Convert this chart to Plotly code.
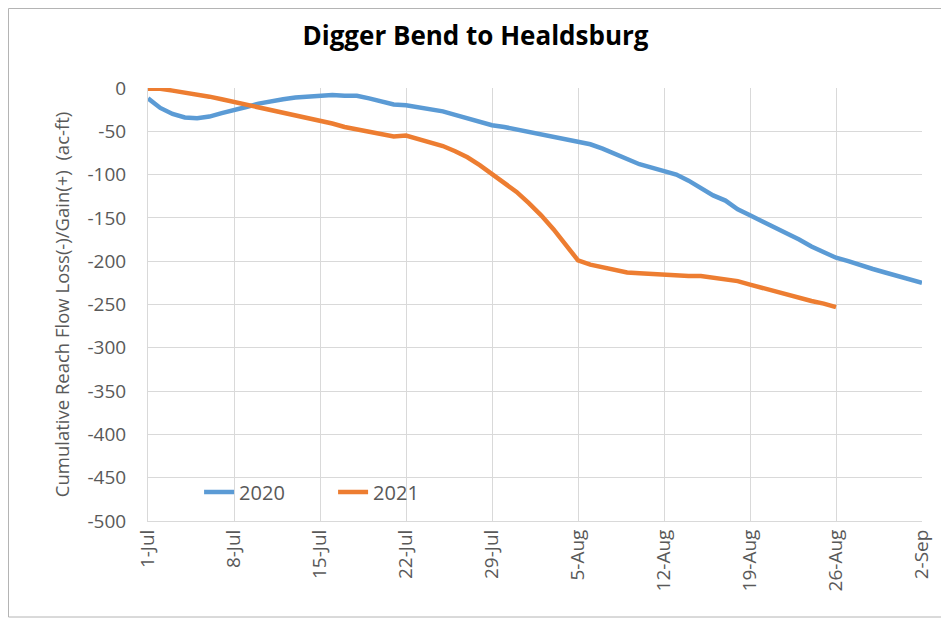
import pandas as pd
import plotly.graph_objects as go

# cumulative reach flow loss/gain (ac-ft), daily from 1-Jul
loss_2020 = [
    -12, -23, -30, -34, -35, -33, -29, -26, -22, -18,
    -15, -13, -11, -10, -9, -8, -9, -9, -12, -15,
    -19, -20, -22, -24, -27, -31, -35, -39, -43, -45,
    -48, -50, -53, -56, -60, -63, -65, -70, -76, -82,
    -88, -92, -96, -100, -107, -116, -124, -130, -140, -147,
    -154, -161, -167, -175, -183, -189, -196, -200, -205, -209,
    -213, -217, -222, -225,
]
loss_2021 = [
    -1, -1, -3, -5, -8, -10, -13, -16, -19, -22,
    -25, -28, -31, -35, -37, -41, -45, -48, -51, -54,
    -56, -55, -59, -62, -67, -73, -80, -89, -99, -109,
    -120, -133, -147, -163, -180, -199, -204, -207, -210, -213,
    -214, -215, -216, -217, -217, -217, -219, -221, -223, -227,
    -231, -235, -239, -242, -246, -249, -253,
]
start_date = "2020-07-01"
end_date = "2020-09-02"
y_ticks = [0, -50, -100, -150, -200, -250, -300, -350, -400, -450, -500]

dates_2020 = pd.date_range(start_date, periods=len(loss_2020), freq="D")
dates_2021 = pd.date_range(start_date, periods=len(loss_2021), freq="D")

GREY = "#595959"
GRID = "#d9d9d9"
FONT = "Open Sans, Noto Sans, sans-serif"

# the page body adds an 8px margin, so the figure is 8px smaller
W, H = 941, 613

fig = go.Figure()
fig.add_trace(go.Scatter(x=dates_2020, y=loss_2020, name="2020", mode="lines",
                         line=dict(color="#5B9BD5", width=4.5)))
fig.add_trace(go.Scatter(x=dates_2021, y=loss_2021, name="2021", mode="lines",
                         line=dict(color="#ED7D31", width=4.5)))

fig.update_layout(
    width=W,
    height=H,
    paper_bgcolor="white",
    plot_bgcolor="white",
    margin=dict(l=140, r=27, t=80, b=100),
    font=dict(family=FONT, color=GREY),
    title=dict(text="<b>Digger Bend to Healdsburg</b>", x=467.5 / W, xref="container",
               xanchor="center", y=1 - 28 / H, yanchor="middle",
               font=dict(family=FONT, size=26, color="black")),
    legend=dict(orientation="h", x=0.066, y=0.067, xanchor="left", yanchor="middle",
                bgcolor="rgba(0,0,0,0)", font=dict(size=20, color=GREY),
                entrywidth=89, itemwidth=30),
    shapes=[dict(type="rect", xref="paper", yref="paper",
                 x0=-139.5 / 774, x1=(W - 0.5 - 140) / 774,
                 y0=-(100 - 4) / 433, y1=(433 + 79.5) / 433,
                 line=dict(color="#b4b4b4", width=1), layer="below")],
)

fig.update_xaxes(
    type="date",
    range=[start_date, end_date],
    tick0=start_date,
    dtick=7 * 86400000,
    tickformat="%-d-%b",
    tickangle=-90,
    tickfont=dict(size=19, color=GREY),
    showgrid=True,
    gridcolor=GRID,
    showline=True,
    linecolor=GRID,
    ticks="",
    automargin=False,
)
fig.update_yaxes(
    range=[-500, 0],
    tickvals=y_ticks,
    ticktext=[str(v) for v in y_ticks],
    tickfont=dict(size=19, color=GREY),
    ticklabelstandoff=17,
    showgrid=True,
    gridcolor=GRID,
    zeroline=False,
    showline=True,
    linecolor=GRID,
    ticks="",
    automargin=False,
    title=dict(text="Cumulative Reach Flow Loss(-)/Gain(+)  (ac-ft)",
               font=dict(size=18.5, color=GREY), standoff=13),
)

fig.write_html("out.html")
